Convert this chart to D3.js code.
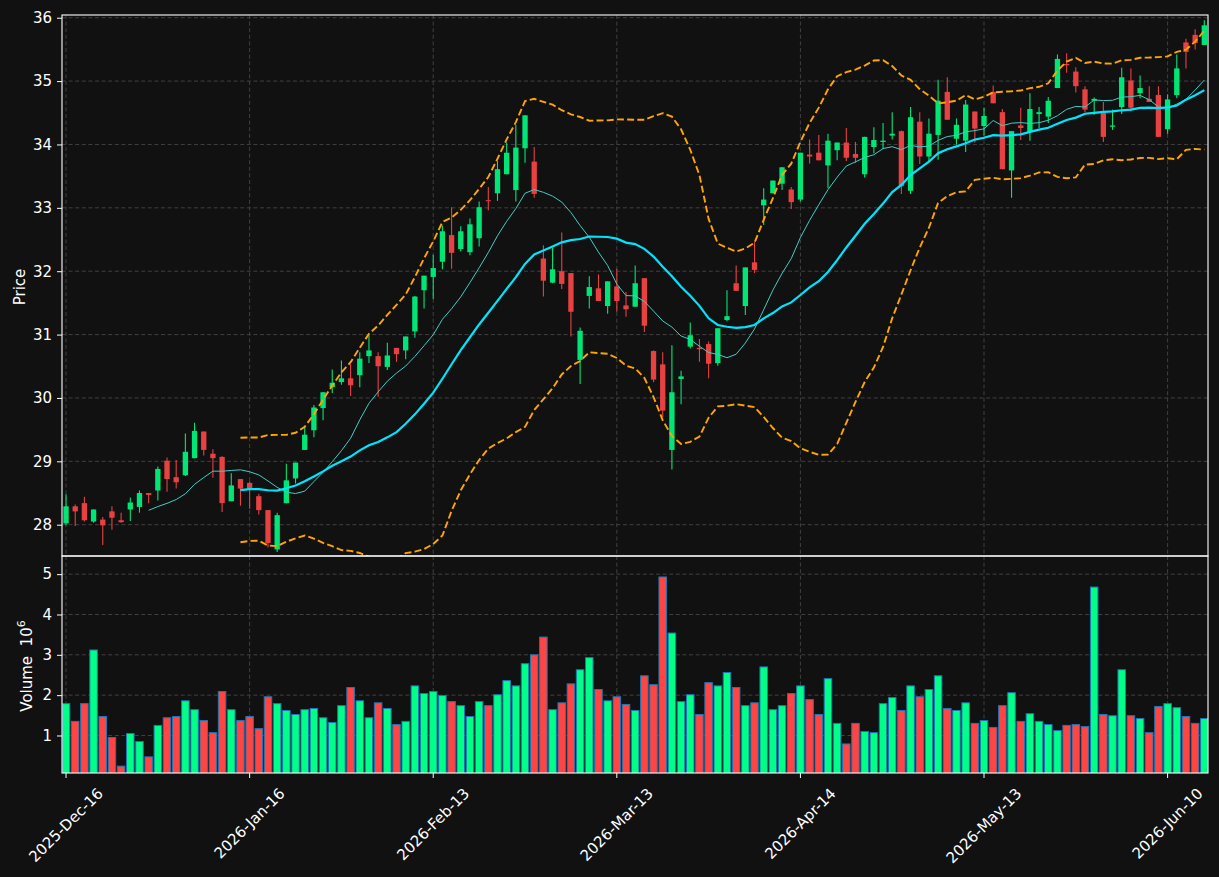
<!DOCTYPE html>
<html><head><meta charset="utf-8">
<script src="https://cdn.jsdelivr.net/npm/d3@7"></script>
<style>
body{margin:0;background:#111111;}
text{font-family:"DejaVu Sans",sans-serif;}
</style>
</head><body>
<svg id="chart" width="1219" height="877"></svg>
<script>
// ---------- DATA ----------
const opens = [28.02,28.29,28.34,28.05,28.08,28.21,28.07,28.24,28.28,28.50,
28.54,29.01,28.75,28.78,29.05,29.47,29.12,29.07,28.37,28.72,
28.66,28.45,28.23,27.61,28.34,28.73,29.18,29.49,29.84,30.17,
30.25,30.31,30.36,30.66,30.66,30.49,30.79,30.75,31.05,31.70,
31.91,32.15,32.57,32.35,32.30,32.52,33.12,33.23,33.53,33.28,
33.94,33.73,32.20,31.82,32.00,31.97,30.60,31.61,31.73,31.45,
31.76,31.46,31.44,31.89,30.74,30.53,29.18,30.30,30.81,30.79,
30.85,30.55,31.23,31.81,31.45,32.14,33.04,33.23,33.38,33.29,
33.13,33.84,33.87,33.67,33.91,34.03,33.85,33.53,33.96,34.04,
34.14,34.21,33.27,34.36,33.81,34.15,34.83,34.09,34.06,34.52,
34.29,34.83,34.51,33.59,34.30,34.20,34.48,34.44,34.89,35.27,
35.15,34.87,34.69,34.51,34.28,34.59,35.01,34.81,34.72,34.78,
34.24,34.78,35.61,35.73,35.57];
const highs = [28.48,28.32,28.44,28.24,28.12,28.29,28.19,28.43,28.54,28.50,
28.92,29.06,29.02,29.44,29.61,29.47,29.19,29.08,28.81,28.72,
28.68,28.49,28.23,28.19,28.96,28.98,29.54,29.89,30.09,30.45,
30.59,30.53,30.72,30.99,30.72,30.87,30.79,30.97,31.61,31.93,
32.26,32.72,33.01,32.71,32.83,33.10,33.33,33.74,34.03,34.31,
34.46,33.96,32.41,32.37,32.61,31.97,31.11,31.92,31.95,31.84,
32.04,31.67,32.09,31.89,30.75,30.72,30.83,30.43,31.19,30.93,
30.89,31.10,31.70,32.09,32.06,32.46,33.31,33.43,33.64,33.33,
33.87,34.08,34.15,34.17,34.03,34.26,34.04,34.12,34.27,34.34,
34.51,34.22,34.59,34.51,34.41,35.02,35.06,34.41,34.70,34.52,
34.58,34.93,34.56,34.21,34.58,34.81,34.59,34.75,35.42,35.44,
35.22,34.92,34.74,34.67,34.55,35.21,35.20,35.09,34.92,34.92,
34.79,35.42,35.67,35.82,35.96];
const lows = [27.99,27.98,28.05,28.03,27.68,27.92,28.03,28.06,28.19,28.34,
28.38,28.52,28.57,28.77,29.05,29.09,28.74,28.20,28.37,28.30,
28.25,28.16,27.64,27.57,28.34,28.65,29.18,29.38,29.65,30.08,
30.21,30.03,30.17,30.55,30.02,30.44,30.57,30.61,30.95,31.41,
31.56,32.03,32.04,32.31,32.25,32.39,32.96,33.11,33.53,33.10,
33.71,33.16,31.60,31.81,31.72,30.97,30.22,31.41,31.53,31.33,
31.36,31.28,31.44,31.04,30.25,29.69,28.87,29.90,30.78,30.57,
30.31,30.51,31.21,31.69,31.31,31.97,32.73,33.23,33.28,32.98,
33.10,33.70,33.75,33.31,33.75,33.74,33.71,33.48,33.86,33.93,
34.08,33.22,33.22,33.69,33.74,33.76,34.39,34.00,33.88,34.03,
34.14,34.65,33.61,33.16,34.07,34.06,34.26,34.34,34.89,35.13,
34.82,34.51,34.47,34.04,34.23,34.48,34.52,34.73,34.67,34.12,
34.17,34.73,35.20,35.50,35.57];
const closes = [28.29,28.21,28.07,28.24,27.99,28.11,28.04,28.35,28.50,28.47,
28.88,28.72,28.67,29.15,29.48,29.18,29.05,28.34,28.62,28.57,
28.57,28.23,27.71,28.15,28.70,28.98,29.42,29.85,30.09,30.24,
30.31,30.20,30.62,30.75,30.50,30.67,30.69,30.97,31.60,31.93,
32.05,32.63,32.29,32.63,32.74,33.01,33.11,33.61,33.87,33.95,
34.46,33.22,31.85,32.03,31.80,31.36,31.06,31.75,31.53,31.84,
31.53,31.40,31.81,31.14,30.29,29.80,30.09,30.34,30.99,30.77,
30.54,31.10,31.29,31.69,32.06,32.02,33.13,33.43,33.64,33.09,
33.87,33.81,33.75,34.06,34.03,33.79,33.79,34.12,34.07,34.06,
34.17,33.34,34.43,33.81,34.17,34.69,34.39,34.31,34.63,34.25,
34.45,34.65,33.61,34.21,34.26,34.56,34.51,34.69,35.35,35.25,
34.92,34.55,34.72,34.12,34.30,35.06,34.58,34.89,34.67,34.12,
34.71,35.20,35.46,35.60,35.88];
// volume in millions
const volumes = [1.79,1.35,1.79,3.12,1.47,0.95,0.24,1.05,0.85,0.47,
1.25,1.44,1.47,1.86,1.64,1.37,1.07,2.09,1.64,1.37,
1.47,1.17,1.96,1.79,1.62,1.52,1.64,1.67,1.44,1.32,
1.74,2.19,1.86,1.44,1.81,1.67,1.27,1.35,2.23,2.04,
2.09,1.99,1.84,1.74,1.47,1.84,1.74,2.01,2.36,2.23,
2.78,3.00,3.44,1.64,1.81,2.28,2.63,2.93,2.14,1.86,
1.96,1.77,1.62,2.48,2.26,4.93,3.54,1.84,2.01,1.52,
2.31,2.23,2.56,2.19,1.74,1.81,2.70,1.64,1.74,2.04,
2.23,1.89,1.52,2.41,1.30,0.79,1.30,1.10,1.07,1.79,
1.94,1.62,2.23,1.96,2.14,2.48,1.67,1.62,1.81,1.30,
1.37,1.20,1.74,2.06,1.35,1.54,1.35,1.27,1.12,1.25,
1.27,1.22,4.68,1.52,1.49,2.63,1.49,1.42,1.07,1.72,
1.79,1.69,1.47,1.30,1.42];
const tickIndex = [0,20,40,60,80,100,120];
const tickLabels = ["2025-Dec-16","2026-Jan-16","2026-Feb-13","2026-Mar-13","2026-Apr-14","2026-May-13","2026-Jun-10"];
const priceTicks = [28,29,30,31,32,33,34,35,36];
const volumeTicks = [1,2,3,4,5];

// ---------- DERIVED INDICATORS ----------
function sma(arr, n){
  return arr.map((v,i)=> i < n-1 ? null : d3.mean(arr.slice(i-n+1, i+1)));
}
function bands(arr, n, k){
  const up=[], lo=[];
  arr.forEach((v,i)=>{
    if(i < n-1){up.push(null);lo.push(null);return;}
    const w = arr.slice(i-n+1,i+1), m = d3.mean(w);
    const sd = Math.sqrt(d3.mean(w.map(x=>(x-m)*(x-m))));
    up.push(m+k*sd); lo.push(m-k*sd);
  });
  return [up, lo];
}
const ma10 = sma(closes,10), ma20 = sma(closes,20);
const [bbUp, bbLo] = bands(closes,20,2);

// ---------- LAYOUT ----------
const L=62, R=1208, PT=15, PB=556, VT=556, VB=773;
const FS = "15px";
const svg = d3.select("#chart");
svg.append("rect").attr("width",1219).attr("height",877).attr("fill","#111111");

const n = closes.length;
const x = d3.scaleLinear().domain([-0.44, 124.4]).range([L,R]);
const step = x(1)-x(0);
const yP = d3.scaleLinear().domain([27.506, 36.043]).range([PB,PT]);
const yV = d3.scaleLinear().domain([0.07, 5.45]).range([VB,VT]);

const upC="#00e676", dnC="#e84142", vUp="#00ff88", vDn="#ff4444";
const gridC="#404040";

const defs = svg.append("defs");
defs.append("clipPath").attr("id","cp").append("rect").attr("x",L).attr("y",PT).attr("width",R-L).attr("height",PB-PT);
defs.append("clipPath").attr("id","cv").append("rect").attr("x",L).attr("y",VT).attr("width",R-L).attr("height",VB-VT);

// grids
const g = svg.append("g");
function gl(x1,x2,y1,y2){
  g.append("line").attr("x1",x1).attr("x2",x2).attr("y1",y1).attr("y2",y2)
   .attr("stroke",gridC).attr("stroke-width",1).attr("stroke-dasharray","4,2.6");
}
tickIndex.forEach(i=>{ gl(x(i),x(i),PT,PB); gl(x(i),x(i),VT,VB); });
priceTicks.forEach(t=> gl(L,R,yP(t),yP(t)));
volumeTicks.forEach(t=> gl(L,R,yV(t),yV(t)));

// price panel
const pg = svg.append("g").attr("clip-path","url(#cp)");
const idx = d3.range(n);
const bw = step*0.58;
pg.selectAll("line.wick").data(idx).join("line")
  .attr("x1",i=>x(i)).attr("x2",i=>x(i))
  .attr("y1",i=>yP(highs[i])).attr("y2",i=>yP(lows[i]))
  .attr("stroke",i=>closes[i]>=opens[i]?upC:dnC).attr("stroke-width",1.1);
pg.selectAll("rect.body").data(idx).join("rect")
  .attr("x",i=>x(i)-bw/2).attr("width",bw)
  .attr("y",i=>yP(Math.max(opens[i],closes[i])))
  .attr("height",i=>Math.max(1,Math.abs(yP(opens[i])-yP(closes[i]))))
  .attr("fill",i=>closes[i]>=opens[i]?upC:dnC);

function linePath(arr){
  return d3.line().defined(d=>d[1]!=null).x(d=>x(d[0])).y(d=>yP(d[1]))(arr.map((v,i)=>[i,v]));
}
pg.append("path").attr("d",linePath(ma10)).attr("fill","none").attr("stroke","#3ccfc6").attr("stroke-width",1);
pg.append("path").attr("d",linePath(ma20)).attr("fill","none").attr("stroke","#00e5ff").attr("stroke-width",2.2);
[bbUp,bbLo].forEach(b=>{
  pg.append("path").attr("d",linePath(b)).attr("fill","none").attr("stroke","#ffa500")
    .attr("stroke-width",1.9).attr("stroke-dasharray","7,3.2");
});

// volume panel
const vg = svg.append("g").attr("clip-path","url(#cv)");
const vw = step*0.82;
vg.selectAll("rect.vol").data(idx).join("rect")
  .attr("x",i=>x(i)-vw/2).attr("width",vw)
  .attr("y",i=>yV(volumes[i])).attr("height",i=>VB+2-yV(volumes[i]))
  .attr("fill",i=>closes[i]>=opens[i]?vUp:vDn)
  .attr("stroke","#1f77b4").attr("stroke-width",1);

// frames
[[PT,PB],[VT,VB]].forEach(([t,b])=>{
  svg.append("rect").attr("x",L).attr("y",t).attr("width",R-L).attr("height",b-t)
    .attr("fill","none").attr("stroke","#ffffff").attr("stroke-width",1.1);
});

// axes
function styleAxis(sel){
  sel.select(".domain").remove();
  sel.selectAll(".tick line").attr("stroke","#ffffff").attr("stroke-width",1);
  sel.selectAll(".tick text").attr("fill","#ffffff").style("font-size",FS).style("font-family","DejaVu Sans, sans-serif");
}
svg.append("g").attr("transform",`translate(${L},0)`)
  .call(d3.axisLeft(yP).tickValues(priceTicks).tickFormat(d3.format("d")).tickSize(5).tickPadding(5))
  .call(styleAxis);
svg.append("g").attr("transform",`translate(${L},0)`)
  .call(d3.axisLeft(yV).tickValues(volumeTicks).tickFormat(d3.format("d")).tickSize(5).tickPadding(5))
  .call(styleAxis);

// bottom ticks + rotated labels
const xa = svg.append("g");
tickIndex.forEach((ti,k)=>{
  xa.append("line").attr("x1",x(ti)).attr("x2",x(ti)).attr("y1",VB).attr("y2",VB+5)
    .attr("stroke","#ffffff").attr("stroke-width",1);
  const t = xa.append("text").text(tickLabels[k]).attr("fill","#ffffff")
    .style("font-size",FS).attr("text-anchor","middle").attr("dominant-baseline","central");
  const len = t.node().getComputedTextLength();
  const side = (len+11)/Math.SQRT2;
  const cy = 787 + side/2;
  t.attr("x",x(ti)).attr("y",cy).attr("transform",`rotate(-45,${x(ti)},${cy})`);
});

// y labels
svg.append("text").attr("transform","translate(25,287) rotate(-90)").attr("text-anchor","middle")
  .attr("fill","#ffffff").style("font-size",FS).text("Price");
const vl = svg.append("text").attr("transform","translate(31.5,666) rotate(-90)").attr("text-anchor","middle")
  .attr("fill","#ffffff").style("font-size",FS);
vl.append("tspan").text("Volume\u00a0\u00a010");
vl.append("tspan").attr("dy",-7).style("font-size","11px").text("6");
</script>
</body></html>
